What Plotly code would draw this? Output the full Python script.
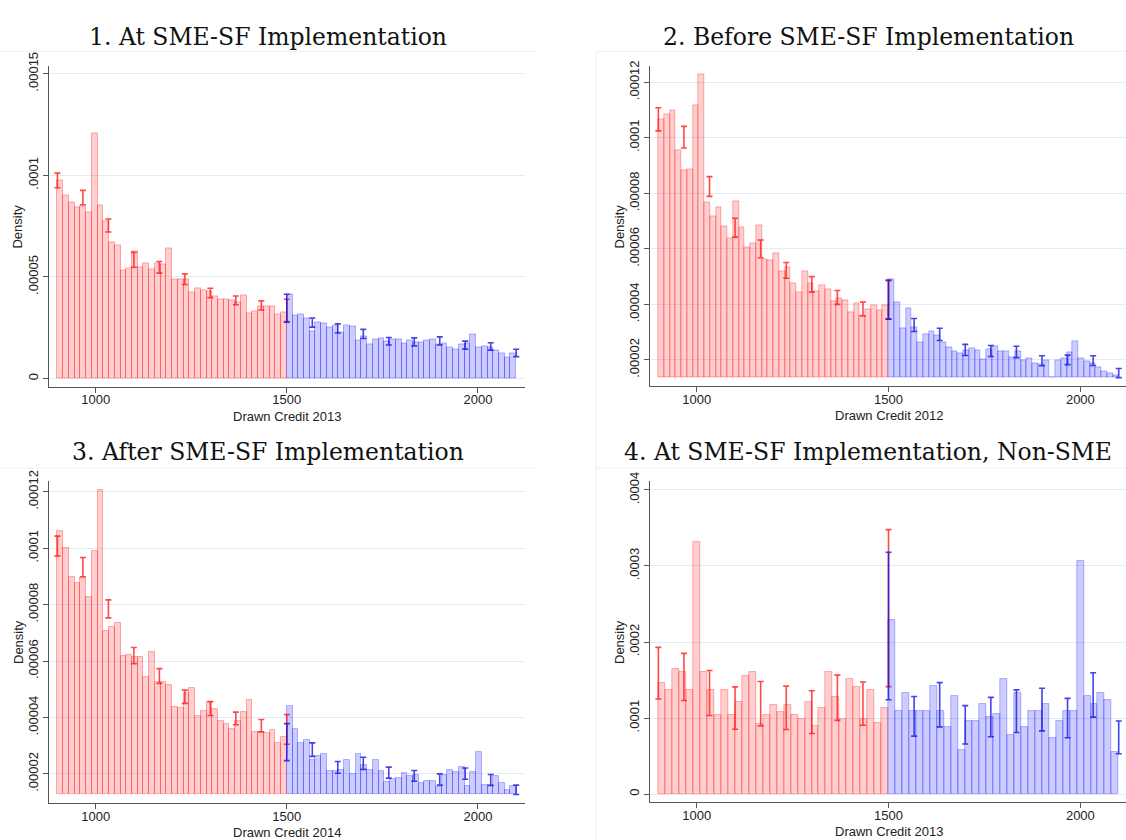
import plotly.graph_objects as go

# ---------------- data ----------------
LO, CUT, HI = 900, 1500, 2100          # histogram support and threshold

titles = ["1. At SME-SF Implementation", "2. Before SME-SF Implementation",
          "3. After SME-SF Implementation", "4. At SME-SF Implementation, Non-SME"]
x_titles = ["Drawn Credit 2013", "Drawn Credit 2012", "Drawn Credit 2014", "Drawn Credit 2013"]
x_tick_vals = [1000, 1500, 2000]
y_tick_vals = [[0, 5e-5, 1e-4, 1.5e-4],
               [2e-5, 4e-5, 6e-5, 8e-5, 1e-4, 1.2e-4],
               [2e-5, 4e-5, 6e-5, 8e-5, 1e-4, 1.2e-4],
               [0, 1e-4, 2e-4, 3e-4, 4e-4]]
y_tick_text = [["0", ".00005", ".0001", ".00015"],
               [".00002", ".00004", ".00006", ".00008", ".0001", ".00012"],
               [".00002", ".00004", ".00006", ".00008", ".0001", ".00012"],
               ["0", ".0001", ".0002", ".0003", ".0004"]]

# Panel 1 (density, units of 1e-5)
p1_red = [9.77, 9.03, 8.66, 8.42, 8.45, 8.18, 12.08, 8.5, 7.73, 6.69,
          6.56, 5.32, 5.44, 6.24, 5.48, 5.65, 5.35, 5.68, 5.6, 6.4,
          4.87, 4.9, 4.9, 4.23, 4.44, 4.35, 4.3, 4.03, 3.9, 3.9,
          3.85, 3.75, 4.1, 3.23, 3.3, 3.55, 3.55, 3.55, 3.18, 3.27]
p1_blue = [4.15, 3.13, 3.15, 2.94, 2.3, 2.74, 2.69, 2.5, 2.6, 2.26,
           2.6, 2.55, 1.9, 2.05, 1.7, 1.95, 2.0, 1.85, 1.95, 1.95,
           1.75, 1.9, 1.8, 1.8, 1.9, 1.95, 1.7, 1.75, 1.55, 1.45,
           1.7, 1.75, 2.15, 1.55, 1.6, 1.55, 1.4, 1.24, 1.03, 1.24]
p1_ci_red_lo = [9.39, 8.55, 7.21, 5.48, 5.19, 4.63, 3.98, 3.63, 3.37, 2.8]
p1_ci_red_hi = [10.11, 9.26, 7.85, 6.21, 5.76, 5.15, 4.44, 4.06, 3.82, 3.9]
p1_ci_blue_lo = [2.77, 2.53, 2.24, 1.97, 1.65, 1.61, 1.65, 1.45, 1.40, 1.08]
p1_ci_blue_hi = [4.15, 2.98, 2.69, 2.42, 2.02, 2.0, 2.05, 1.84, 1.76, 1.44]

# Panel 2 (units of 1e-5)
p2_red = [10.67, 10.84, 10.98, 9.54, 8.84, 8.87, 11.16, 12.28, 7.68, 7.15,
          7.48, 6.79, 6.39, 7.71, 6.77, 6.06, 6.21, 6.86, 5.61, 5.57,
          5.85, 5.18, 5.32, 4.74, 4.43, 5.18, 4.74, 4.47, 4.68, 4.53,
          4.09, 4.23, 4.15, 3.70, 4.03, 3.6, 3.82, 3.96, 3.8, 3.95]
p2_blue = [4.9, 4.07, 3.14, 3.86, 3.16, 2.64, 2.93, 3.01, 2.87, 2.64,
           2.44, 2.31, 2.23, 2.35, 2.41, 2.35, 2.02, 2.38, 2.47, 2.31,
           2.29, 2.09, 2.29, 1.97, 2.06, 1.88, 1.85, 1.97, 1.38, 1.97,
           2.05, 2.27, 2.66, 2.06, 1.95, 1.88, 1.73, 1.59, 1.5, 1.45]
p2_ci_red_lo = [10.25, 9.63, 7.89, 6.42, 5.68, 4.94, 4.44, 4.0, 3.58, 3.47]
p2_ci_red_hi = [11.08, 10.41, 8.6, 7.1, 6.32, 5.51, 5.0, 4.5, 4.08, 4.85]
p2_ci_blue_lo = [3.47, 3.02, 2.70, 2.16, 2.12, 2.08, 1.79, 1.83, 1.80, 1.36]
p2_ci_blue_hi = [4.88, 3.49, 3.14, 2.56, 2.52, 2.49, 2.15, 2.17, 2.15, 1.69]

# Panel 3 (units of 1e-5)
p3_red = [10.6, 10.0, 8.98, 8.78, 8.95, 8.26, 9.91, 12.07, 7.06, 7.21,
          7.36, 6.19, 6.22, 6.14, 6.14, 5.44, 6.31, 5.26, 5.26, 5.15,
          4.36, 4.33, 4.86, 5.05, 4.05, 4.21, 4.56, 4.28, 3.86, 3.78,
          3.58, 3.86, 4.19, 4.6, 3.47, 3.47, 3.43, 3.57, 3.1, 3.3]
p3_blue = [4.4, 3.58, 3.1, 3.2, 2.5, 2.62, 2.71, 2.09, 2.09, 2.15,
           2.5, 1.98, 2.71, 2.3, 2.12, 2.5, 2.09, 1.71, 1.8, 1.84,
           2.03, 1.92, 1.94, 1.66, 1.74, 1.74, 1.53, 1.95, 2.15, 2.06,
           2.23, 1.57, 2.06, 2.79, 1.59, 1.59, 1.92, 1.69, 1.43, 1.55]
p3_ci_red_lo = [9.73, 8.99, 7.53, 5.91, 5.21, 4.5, 4.07, 3.74, 3.49, 3.05]
p3_ci_red_hi = [10.43, 9.67, 8.17, 6.48, 5.73, 4.97, 4.56, 4.19, 3.93, 4.1]
p3_ci_blue_lo = [2.47, 2.62, 2.02, 2.16, 1.85, 1.74, 1.6, 1.81, 1.59, 1.27]
p3_ci_blue_hi = [3.78, 3.1, 2.44, 2.59, 2.24, 2.12, 2.0, 2.21, 1.98, 1.6]

# Panel 4 (units of 1e-4)
p4_red = [1.466, 1.366, 1.647, 1.603, 1.366, 3.31, 1.603, 1.366, 1.034, 1.366,
          1.034, 1.216, 1.552, 1.603, 0.927, 1.034, 1.177, 1.078, 1.177, 1.034,
          0.991, 1.216, 0.892, 1.134, 1.603, 1.272, 0.991, 1.509, 1.414, 0.991,
          1.366, 0.935, 1.134]
p4_blue = [2.284, 1.09, 1.323, 1.09, 1.09, 1.09, 1.422, 1.09, 0.875, 1.284,
           0.582, 0.957, 0.957, 1.185, 1.013, 1.047, 1.509, 0.776, 1.323, 0.875,
           1.09, 1.09, 1.185, 0.733, 0.957, 1.09, 1.09, 3.07, 1.284, 1.185,
           1.323, 1.237, 0.547]
p4_ci_red_lo = [1.25, 1.23, 1.034, 0.853, 0.897, 0.849, 0.797, 0.97, 0.905, 1.414]
p4_ci_red_hi = [1.93, 1.85, 1.625, 1.41, 1.48, 1.42, 1.36, 1.565, 1.474, 3.478]
p4_ci_blue_lo = [1.241, 0.763, 0.884, 0.659, 0.754, 0.81, 0.832, 0.741, 1.013, 0.530]
p4_ci_blue_hi = [3.18, 1.284, 1.466, 1.164, 1.272, 1.371, 1.392, 1.259, 1.595, 0.961]

panels = [
    dict(unit=1e-5, red=p1_red, blue=p1_blue, crl=p1_ci_red_lo, crh=p1_ci_red_hi,
         cbl=p1_ci_blue_lo, cbh=p1_ci_blue_hi, base_at_min=False),
    dict(unit=1e-5, red=p2_red, blue=p2_blue, crl=p2_ci_red_lo, crh=p2_ci_red_hi,
         cbl=p2_ci_blue_lo, cbh=p2_ci_blue_hi, base_at_min=True),
    dict(unit=1e-5, red=p3_red, blue=p3_blue, crl=p3_ci_red_lo, crh=p3_ci_red_hi,
         cbl=p3_ci_blue_lo, cbh=p3_ci_blue_hi, base_at_min=True),
    dict(unit=1e-4, red=p4_red, blue=p4_blue, crl=p4_ci_red_lo, crh=p4_ci_red_hi,
         cbl=p4_ci_blue_lo, cbh=p4_ci_blue_hi, base_at_min=False),
]

# ---------------- layout geometry (pixels of the 1126x840 page) ----------------
W, H = 1126, 840
geom = [  # left, right, top, bottom of each plot region
    (49, 525, 53.3, 379.0),
    (650.3, 1126, 53.3, 378.3),
    (49, 525, 475.0, 802.3),
    (650.3, 1126, 475.0, 801.7),
]
x_ranges = [[878, 2123], [879, 2119], [878, 2123], [879, 2119]]
y_ranges = [[-0.40e-5, 15.36e-5], [1.06e-5, 12.57e-5], [0.97e-5, 12.38e-5], [-0.108e-4, 4.116e-4]]
title_pos = [(267.6, 23), (868, 23), (267.6, 445), (868, 445)]
x_title_cx = [287, 889, 287, 889]

RED_FILL, RED_LINE, RED_CI = "rgba(255,0,0,0.19)", "rgba(255,0,0,0.30)", "rgba(255,20,20,0.78)"
BLU_FILL, BLU_LINE, BLU_CI = "rgba(0,0,255,0.20)", "rgba(0,0,255,0.28)", "rgba(20,20,225,0.80)"
AXIS_COL = "#555555"
GRID_COL = "#e3ecf0"
TICK_FONT = dict(family="Liberation Sans, Arial, sans-serif", size=13, color="#222222")

fig = go.Figure()
annotations = []
shapes = []

for i, p in enumerate(panels):
    k = i + 1
    xa, ya = ("x" if k == 1 else f"x{k}"), ("y" if k == 1 else f"y{k}")
    u = p["unit"]
    red = [v * u for v in p["red"]]
    blue = [v * u for v in p["blue"]]
    crl = [v * u for v in p["crl"]]
    crh = [v * u for v in p["crh"]]
    cbl = [v * u for v in p["cbl"]]
    cbh = [v * u for v in p["cbh"]]
    if p["base_at_min"]:
        base = min(red + blue + crl + cbl)
    else:
        base = 0.0

    wr = (CUT - LO) / len(red)
    wb = (HI - CUT) / len(blue)
    xr = [LO + (j + 0.5) * wr for j in range(len(red))]
    xb = [CUT + (j + 0.5) * wb for j in range(len(blue))]

    fig.add_trace(go.Bar(x=xr, y=[v - base for v in red], base=base, width=wr,
                         marker=dict(color=RED_FILL, line=dict(color=RED_LINE, width=1)),
                         xaxis=xa, yaxis=ya, showlegend=False))
    fig.add_trace(go.Bar(x=xb, y=[v - base for v in blue], base=base, width=wb,
                         marker=dict(color=BLU_FILL, line=dict(color=BLU_LINE, width=1)),
                         xaxis=xa, yaxis=ya, showlegend=False))

    n_ci = len(crl)
    step_r = (CUT - LO) / (n_ci - 1)
    step_b = (HI - CUT) / (len(cbl) - 1)
    xcr = [LO + j * step_r for j in range(n_ci)]
    xcb = [CUT + j * step_b for j in range(len(cbl))]
    for xs, lo, hi, col in ((xcr, crl, crh, RED_CI), (xcb, cbl, cbh, BLU_CI)):
        mid = [(a + b) / 2 for a, b in zip(lo, hi)]
        fig.add_trace(go.Scatter(
            x=xs, y=mid, mode="markers", marker=dict(size=1, opacity=0),
            error_y=dict(type="data", symmetric=False,
                         array=[h - m for h, m in zip(hi, mid)],
                         arrayminus=[m - l for m, l in zip(mid, lo)],
                         color=col, thickness=1.6, width=3),
            xaxis=xa, yaxis=ya, showlegend=False, hoverinfo="skip"))

    l, r, t, b = geom[i]
    xdom = [l / W, r / W]
    ydom = [1 - b / H, 1 - t / H]
    fig.update_layout(**{
        ("xaxis" if k == 1 else f"xaxis{k}"): dict(
            domain=xdom, range=x_ranges[i], anchor=ya,
            tickvals=x_tick_vals, ticks="outside", ticklen=5, tickwidth=1,
            tickcolor=AXIS_COL, showline=True, linecolor=AXIS_COL, linewidth=1,
            showgrid=False, zeroline=False, tickfont=TICK_FONT,
            ticklabelstandoff=-4),
        ("yaxis" if k == 1 else f"yaxis{k}"): dict(
            domain=ydom, range=y_ranges[i], anchor=xa,
            tickvals=y_tick_vals[i], ticktext=y_tick_text[i], tickangle=-90,
            ticks="outside", ticklen=5, tickwidth=1, tickcolor=AXIS_COL,
            showline=True, linecolor=AXIS_COL, linewidth=1,
            showgrid=True, gridcolor=GRID_COL, gridwidth=1, zeroline=False,
            tickfont=TICK_FONT),
    })

    tx, ty = title_pos[i]
    annotations.append(dict(text=titles[i], x=tx / W, y=1 - ty / H, xref="paper", yref="paper",
                            xanchor="center", yanchor="middle", showarrow=False,
                            font=dict(family="DejaVu Serif, serif", size=23.5, color="#111111")))
    annotations.append(dict(text="Density", x=(l - 31) / W, y=1 - (t + b) / 2 / H,
                            xref="paper", yref="paper", textangle=-90,
                            xanchor="center", yanchor="middle", showarrow=False,
                            font=dict(family="Liberation Sans, Arial, sans-serif", size=13, color="#222222")))
    annotations.append(dict(text=x_titles[i], x=x_title_cx[i] / W,
                            y=1 - (b + 30) / H, xref="paper", yref="paper",
                            xanchor="center", yanchor="middle", showarrow=False,
                            font=dict(family="Liberation Sans, Arial, sans-serif", size=13, color="#222222")))

# faint borders of the four sub-graph regions
for (x0, y0, x1, y1) in [(0, 38, 537, 38), (596, 38, 1126, 38), (596, 38, 596, 430),
                         (0, 461.7, 537, 461.7), (596, 461.7, 1126, 461.7), (596, 430, 596, 840)]:
    shapes.append(dict(type="line", xref="paper", yref="paper",
                       x0=x0 / W, x1=x1 / W, y0=1 - y0 / H, y1=1 - y1 / H,
                       line=dict(color="#efefef", width=1)))

fig.update_layout(width=W, height=H, margin=dict(l=0, r=0, t=0, b=0),
                  paper_bgcolor="white", plot_bgcolor="white",
                  barmode="overlay", bargap=0, showlegend=False,
                  annotations=annotations, shapes=shapes)

fig.write_html("out.html")
